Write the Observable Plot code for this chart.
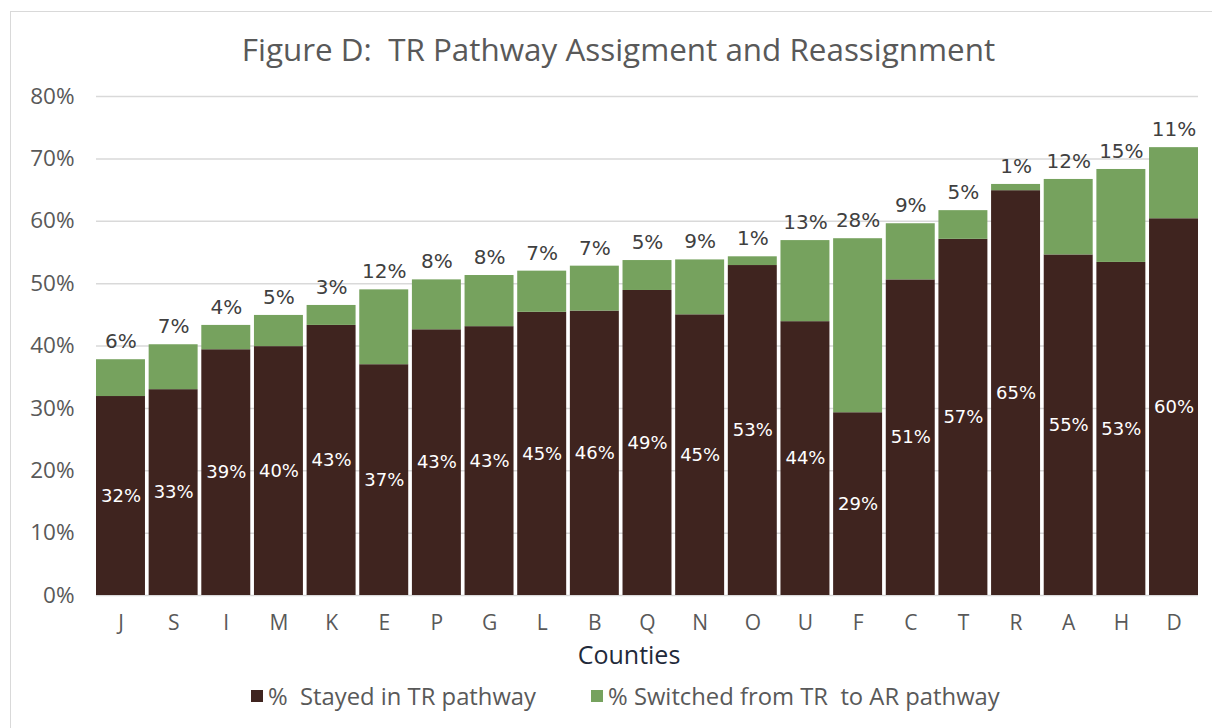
<!DOCTYPE html>
<html>
<head>
<meta charset="utf-8">
<script src="https://cdn.jsdelivr.net/npm/d3@7"></script>
<script src="https://cdn.jsdelivr.net/npm/@observablehq/plot@0.6"></script>
<style>
  html, body { margin: 0; padding: 0; background: #fff; }
  #wrap { position: relative; width: 1212px; height: 728px; overflow: hidden; font-family: "Open Sans", sans-serif; }
  #frame { position: absolute; left: 10px; top: 11px; width: 1210px; height: 730px; border: 1.5px solid #d9d9d9; box-sizing: border-box; }
  #title { position: absolute; left: 0; width: 1237px; top: 27px; text-align: center; font-size: 31.4px; color: #595959; white-space: pre; }
  #xlabel { position: absolute; left: 0; width: 1258px; top: 642px; text-align: center; font-size: 25px; line-height: 25px; color: #1f2a3a; }
  #legend { position: absolute; top: 680px; left: 251px; font-size: 23.8px; color: #595959; white-space: pre; display: flex; align-items: center; }
  .sw { display: inline-block; width: 12px; height: 12px; margin-right: 5px; }
  #chart { position: absolute; left: 0; top: 0; }
</style>
</head>
<body>
<div id="wrap">
  <div id="frame"></div>
  <div id="chart"></div>
  <div id="title"></div>
  <div id="xlabel"></div>
  <div id="legend"></div>
</div>
<script>
const titleText = "Figure D:  TR Pathway Assigment and Reassignment";
const xTitle = "Counties";
const seriesNames = ["%  Stayed in TR pathway", "% Switched from TR  to AR pathway"];
const seriesColors = ["#3f241f", "#76a25e"];
const counties = ["J","S","I","M","K","E","P","G","L","B","Q","N","O","U","F","C","T","R","A","H","D"];
const stayed   = [31.9,33.0,39.4,39.9,43.3,37.0,42.6,43.1,45.4,45.6,48.9,45.0,52.9,43.9,29.3,50.6,57.1,64.9,54.6,53.4,60.4];
const switched = [5.9,7.2,3.9,5.0,3.2,12.0,8.0,8.2,6.6,7.2,4.8,8.8,1.4,13.0,27.9,9.0,4.6,1.0,12.1,14.9,11.4];
const yTicks = [0,10,20,30,40,50,60,70,80];

const rows = [];
counties.forEach((c, i) => {
  rows.push({county: c, series: seriesNames[0], value: stayed[i]});
  rows.push({county: c, series: seriesNames[1], value: switched[i]});
});
const perCounty = counties.map((c, i) => ({county: c, stayed: stayed[i], switched: switched[i], total: stayed[i] + switched[i]}));

const chart = Plot.plot({
  width: 1212,
  height: 728,
  marginTop: 96,
  marginBottom: 133,
  marginLeft: 96,
  marginRight: 14,
  style: {fontFamily: "Open Sans, sans-serif", fontSize: "22px", color: "#595959", background: "transparent"},
  x: {domain: counties, paddingInner: 0.07, paddingOuter: 0, round: false},
  y: {domain: [0, 80]},
  color: {domain: seriesNames, range: seriesColors},
  marks: [
    Plot.gridY(yTicks, {stroke: "#d9d9d9", strokeOpacity: 1, strokeWidth: 1.5}),
    Plot.axisY(yTicks, {tickSize: 0, tickPadding: 22, tickFormat: d => d + "%", label: null, fontSize: 22.5}),
    Plot.axisX({tickSize: 0, tickPadding: 20, label: null, fontSize: 21}),
    Plot.barY(rows, {x: "county", y: "value", fill: "series", order: seriesNames}),
    Plot.text(perCounty, {x: "county", y: d => d.stayed / 2, text: d => Math.round(d.stayed) + "%", fill: "white", fontSize: 18, fontFamily: "DejaVu Sans"}),
    Plot.text(perCounty, {x: "county", y: "total", dy: -18, text: d => Math.round(d.switched) + "%", fill: "#404040", fontSize: 20, fontFamily: "DejaVu Sans"})
  ]
});
document.getElementById("chart").appendChild(chart);
document.getElementById("title").textContent = titleText;
document.getElementById("xlabel").textContent = xTitle;
const leg = document.getElementById("legend");
seriesNames.forEach((s, i) => {
  const item = document.createElement("span");
  item.style.display = "inline-flex";
  item.style.alignItems = "center";
  item.style.marginRight = i === 0 ? "55px" : "0";
  const sw = document.createElement("span");
  sw.className = "sw";
  sw.style.background = seriesColors[i];
  const t = document.createElement("span");
  t.textContent = s;
  item.appendChild(sw);
  item.appendChild(t);
  leg.appendChild(item);
});
</script>
</body>
</html>
